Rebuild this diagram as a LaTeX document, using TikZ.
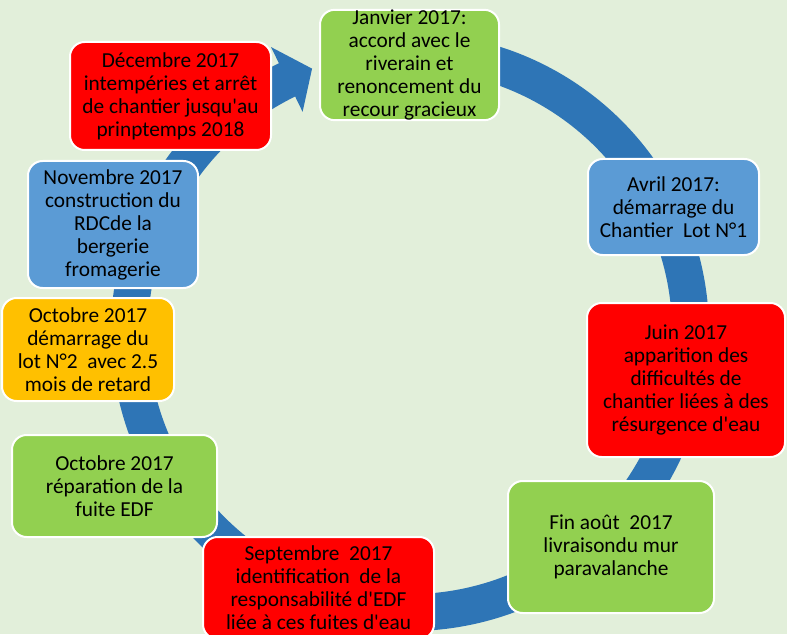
\documentclass[tikz,border=0pt]{standalone}
\usepackage{fontspec}
\setmainfont{Carlito}
\newfontfamily\boxfont{Carlito}
\definecolor{bgc}{HTML}{E2EFDA}
\definecolor{bandc}{HTML}{2E75B6}
\definecolor{grn}{HTML}{92D050}
\definecolor{blu}{HTML}{5B9BD5}
\definecolor{rd}{HTML}{FF0000}
\definecolor{yel}{HTML}{FFC000}
\begin{document}
\begin{tikzpicture}[x=0.75pt,y=-0.75pt,
  box/.style={draw=white, line width=1.5pt, rounded corners=11pt, inner sep=0pt,
    align=center, text=black, font=\boxfont\fontsize{16}{17.25}\selectfont},
  sz/.style 2 args={minimum width=#1*0.75pt, minimum height=#2*0.75pt}]
\fill[bgc] (0,0) rectangle (787,634);
\useasboundingbox (0,0) rectangle (787,634);
% cycle ring with arrow head
\begin{scope}[shift={(410,332)}]
\fill[bandc] (-100:299) arc[start angle=-100, end angle=244, radius=299]
  -- (244:317) -- (249.6:281) -- (244:245) -- (244:262)
  arc[start angle=244, end angle=-100, radius=262] -- cycle;
\end{scope}
% boxes
\node[box, fill=grn, sz={179}{106}] (jan) at (409.5,65)
  {Janvier 2017:\\accord avec le\\riverain et\\renoncement du\\recour gracieux};
\node[box, fill=blu, sz={171}{96}] (avr) at (673.5,207)
  {Avril 2017:\\démarrage du\\Chantier~ Lot N°1};
\node[box, fill=rd, sz={198}{154}] (juin) at (686,380)
  {Juin 2017\\apparition des\\difficultés de\\chantier liées à des\\résurgence d'eau};
\node[box, fill=grn, sz={206}{132}] (aout) at (611,547)
  {Fin août~ 2017\\livraisondu mur\\paravalanche};
\node[box, fill=rd, sz={231}{102}] (sept) at (318.5,588)
  {Septembre~ 2017\\identification~ de la\\responsabilité d'EDF\\liée à ces fuites d'eau};
\node[box, fill=grn, sz={205}{102}] (octr) at (114.5,486)
  {Octobre 2017\\réparation de la\\fuite EDF};
\node[box, fill=yel, sz={172}{103}] (octd) at (88,349.5)
  {Octobre 2017\\démarrage du\\lot N°2~ avec 2.5\\mois de retard};
\node[box, fill=blu, sz={170}{127}] (nov) at (113,224.5)
  {Novembre 2017\\construction du\\RDCde la\\bergerie\\fromagerie};
\node[box, fill=rd, sz={201}{108}] (dec) at (170.5,96)
  {Décembre 2017\\intempéries et arrêt\\de chantier jusqu'au\\prinptemps 2018};
\end{tikzpicture}
\end{document}
